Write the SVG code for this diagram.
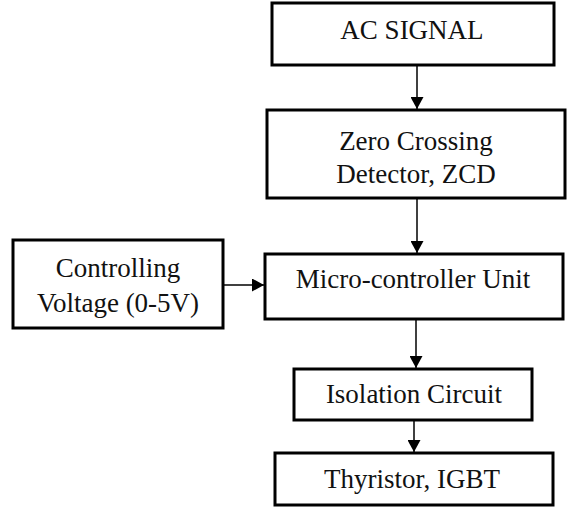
<svg xmlns="http://www.w3.org/2000/svg" width="570" height="517" viewBox="0 0 570 517">
  <style>
    .box { fill: #ffffff; stroke: #000000; stroke-width: 3; }
    .lbl { font-family: "Liberation Serif", "Times New Roman", serif; font-size: 27px; fill: #111111; text-anchor: middle; }
    .edge { stroke: #000000; stroke-width: 1.5; fill: none; marker-end: url(#arrow); }
  </style>
  <defs>
    <marker id="arrow" markerUnits="userSpaceOnUse" markerWidth="13" markerHeight="13" refX="12" refY="6.5" orient="auto">
      <path d="M0,0 L12,6.5 L0,13 z" fill="#000000"/>
    </marker>
  </defs>
  <rect width="570" height="517" fill="#ffffff"/>

  <g id="connectors">
    <line class="edge" x1="417" y1="65" x2="417" y2="109"/>
    <line class="edge" x1="417" y1="198" x2="417" y2="253"/>
    <line class="edge" x1="223" y1="285" x2="264" y2="285"/>
    <line class="edge" x1="416" y1="320" x2="416" y2="368"/>
    <line class="edge" x1="414" y1="420" x2="414" y2="452"/>
  </g>

  <g id="ac-signal">
    <rect class="box" x="272" y="3" width="282" height="62"/>
    <text class="lbl" x="412" y="39">AC SIGNAL</text>
  </g>

  <g id="zcd">
    <rect class="box" x="267" y="110" width="298" height="88"/>
    <text class="lbl" x="416" y="150">Zero Crossing</text>
    <text class="lbl" x="416" y="183">Detector, ZCD</text>
  </g>

  <g id="controlling-voltage">
    <rect class="box" x="13" y="240" width="210" height="88"/>
    <text class="lbl" x="118" y="277">Controlling</text>
    <text class="lbl" x="118" y="312">Voltage (0-5V)</text>
  </g>

  <g id="mcu">
    <rect class="box" x="265" y="254" width="298" height="65"/>
    <text class="lbl" x="413" y="288">Micro-controller Unit</text>
  </g>

  <g id="isolation">
    <rect class="box" x="294" y="369" width="238" height="51"/>
    <text class="lbl" x="414" y="403">Isolation Circuit</text>
  </g>

  <g id="thyristor">
    <rect class="box" x="275" y="453" width="278" height="52"/>
    <text class="lbl" x="412" y="488">Thyristor, IGBT</text>
  </g>
</svg>
